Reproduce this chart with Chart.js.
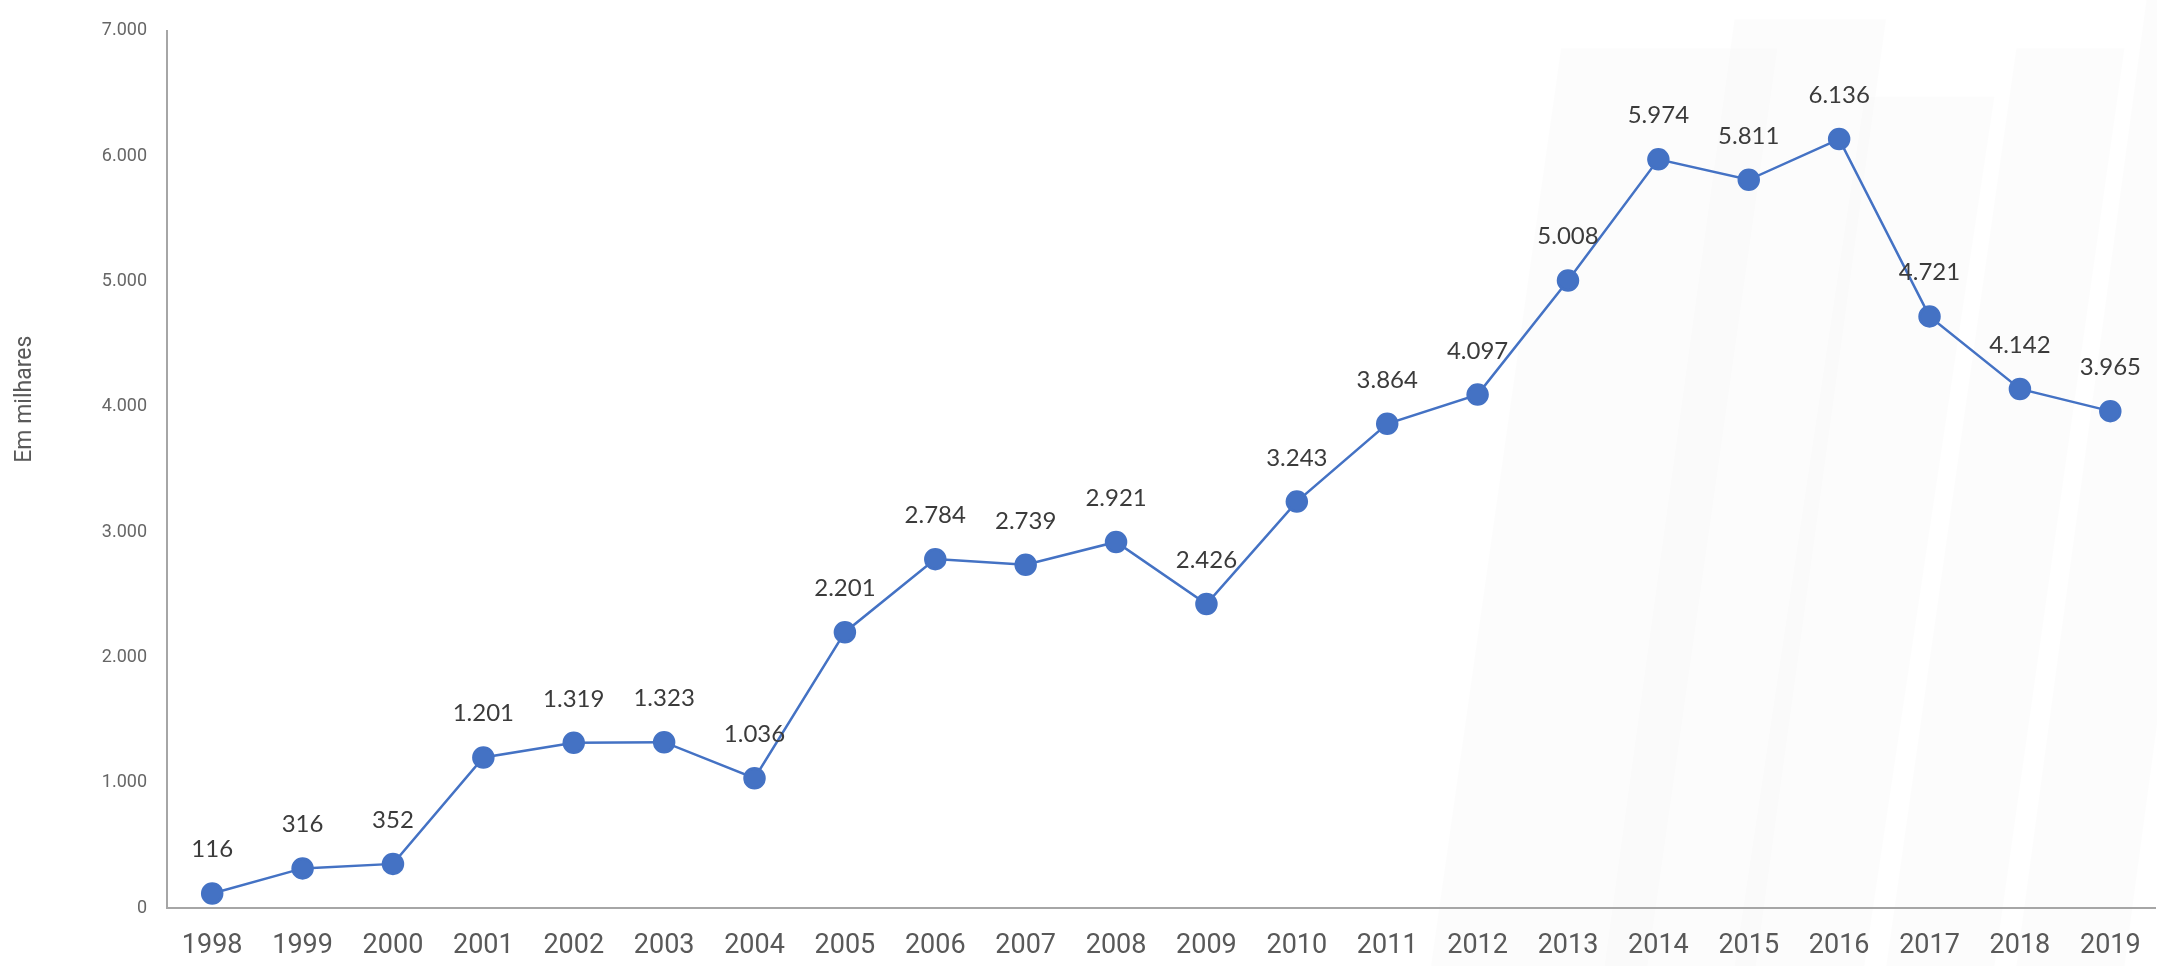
<!DOCTYPE html>
<html lang="pt-BR">
<head>
<meta charset="utf-8">
<title>Em milhares 1998-2019</title>
<script src="https://cdn.jsdelivr.net/npm/chart.js@4.4.1/dist/chart.umd.min.js"></script>
<style>
  html, body { margin: 0; padding: 0; background: #fff; overflow: hidden; }
  #wrap { position: relative; width: 2168px; height: 966px; }
</style>
</head>
<body>
<div id="wrap"><canvas id="lineChart"></canvas></div>
<script>
const years = ['1998','1999','2000','2001','2002','2003','2004','2005','2006','2007','2008',
               '2009','2010','2011','2012','2013','2014','2015','2016','2017','2018','2019'];
const values = [116, 316, 352, 1201, 1319, 1323, 1036, 2201, 2784, 2739, 2921,
                2426, 3243, 3864, 4097, 5008, 5974, 5811, 6136, 4721, 4142, 3965];
const yTicks = [0, 1000, 2000, 3000, 4000, 5000, 6000, 7000];
const yTitle = 'Em milhares';

const BLUE = '#4472C4';
const NARROW = "'Liberation Sans Narrow', 'Arial Narrow', Roboto, sans-serif";

// 7000 -> "7.000"
const fmt = v => String(v).replace(/\B(?=(\d{3})+(?!\d))/g, '.');

// very faint slanted shapes behind the plot (watermark look)
const watermark = {
  id: 'watermark',
  beforeDraw(chart) {
    const { ctx, width, height } = chart;
    ctx.save();
    ctx.fillStyle = 'rgba(0,0,0,0.012)';
    const bars = [[0.66, 0.05, 0.10], [0.74, 0.02, 0.07], [0.80, 0.10, 0.06], [0.87, 0.05, 0.05], [0.93, 0.0, 0.05]];
    bars.forEach(([x0, y0, w]) => {
      const skew = 0.06 * width;
      ctx.beginPath();
      ctx.moveTo(x0 * width + skew, y0 * height);
      ctx.lineTo((x0 + w) * width + skew, y0 * height);
      ctx.lineTo((x0 + w) * width, height);
      ctx.lineTo(x0 * width, height);
      ctx.closePath();
      ctx.fill();
    });
    ctx.restore();
  }
};

// value labels above each point
const pointLabels = {
  id: 'pointLabels',
  afterDatasetsDraw(chart) {
    const { ctx } = chart;
    const meta = chart.getDatasetMeta(0);
    ctx.save();
    ctx.font = "24px Lato, 'Open Sans', sans-serif";
    ctx.fillStyle = '#3b3b3b';
    ctx.textAlign = 'center';
    ctx.textBaseline = 'alphabetic';
    meta.data.forEach((pt, i) => {
      ctx.fillText(fmt(values[i]), pt.x, pt.y - 36);
    });
    ctx.restore();
  }
};

// rotated axis title, drawn a bit above the axis centre like the original
const axisTitle = {
  id: 'axisTitle',
  afterDraw(chart) {
    const { ctx, chartArea } = chart;
    ctx.save();
    ctx.translate(25, chartArea.top + (chartArea.bottom - chartArea.top) * 0.42);
    ctx.rotate(-Math.PI / 2);
    ctx.font = '23px ' + NARROW;
    ctx.fillStyle = '#595959';
    ctx.textAlign = 'center';
    ctx.textBaseline = 'middle';
    ctx.fillText(yTitle, 0, 0);
    ctx.restore();
  }
};

function initChart() {
  const el = document.getElementById('lineChart');
  new Chart(el, {
    type: 'line',
    data: {
      labels: years,
      datasets: [{
        data: values,
        borderColor: BLUE,
        borderWidth: 2.5,
        backgroundColor: BLUE,
        pointBackgroundColor: BLUE,
        pointBorderColor: BLUE,
        pointRadius: 10,
        pointHoverRadius: 10,
        tension: 0,
        clip: false
      }]
    },
    options: {
      responsive: true, maintainAspectRatio: false, animation: false,
      layout: { padding: { top: 24, right: 0, left: 0, bottom: 0 } },
      plugins: { legend: { display: false }, tooltip: { enabled: false } },
      scales: {
        x: {
          offset: true,
          grid: { display: false, drawTicks: false },
          border: { display: true, color: '#a6a6a6', width: 2 },
          ticks: { color: '#595959', font: { family: NARROW, size: 27 }, padding: 22, maxRotation: 0, autoSkip: false },
          afterFit(scale) { scale.height = 58; }
        },
        y: {
          min: yTicks[0], max: yTicks[yTicks.length - 1],
          afterBuildTicks(scale) { scale.ticks = yTicks.map(v => ({ value: v })); },
          grid: { display: false, drawTicks: false },
          border: { display: true, color: '#a6a6a6', width: 2 },
          ticks: { color: '#666666', font: { family: NARROW, size: 18 }, padding: 20, callback: v => fmt(v) },
          afterFit(scale) { scale.width = 167; }
        }
      }
    },
    plugins: [watermark, pointLabels, axisTitle]
  });
}

document.addEventListener('DOMContentLoaded', initChart);
</script>
</body>
</html>
